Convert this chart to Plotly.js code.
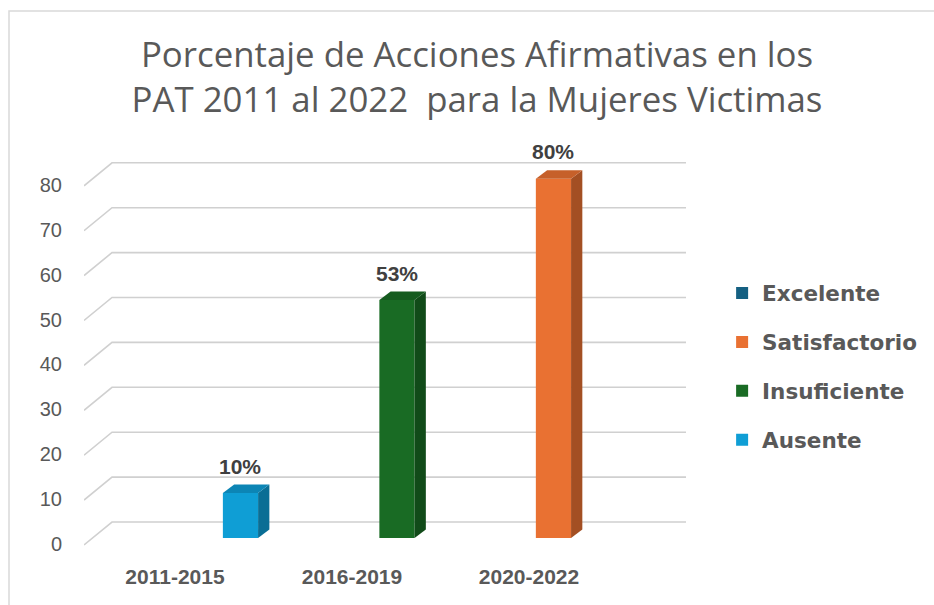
<!DOCTYPE html>
<html>
<head>
<meta charset="utf-8">
<script src="https://cdn.plot.ly/plotly-3.0.1.min.js"></script>
<style>html,body{margin:0;padding:0;background:#fff;}#chart{width:934px;height:605px;}</style>
</head>
<body>
<div id="chart"></div>
<script>
// ---- data ----
const categories = ["2011-2015", "2016-2019", "2020-2022"];
const seriesNames = ["Excelente", "Satisfactorio", "Insuficiente", "Ausente"];
const excelente = [null, null, null];
const satisfactorio = [null, null, 80];
const insuficiente = [null, 53, null];
const ausente = [10, null, null];
const yTicks = [0, 10, 20, 30, 40, 50, 60, 70, 80];

// ---- style ----
const frontColors = ["#156082", "#E97132", "#196B24", "#0F9ED5"];
const sideColors  = ["#0E4560", "#A34F23", "#114B19", "#0A6E95"];
const topColors   = ["#125473", "#C6602A", "#155B1F", "#0C85B5"];
const seriesValues = [excelente, satisfactorio, insuficiente, ausente];

const catPos = categories.map((c, i) => i);
const barWidth = 0.225;
const depthDx = 0.072;  // depth offset in x data units
const depthDy = 1.9;    // depth offset in y data units
const xRange = [-1.0, 2.847];
const yRange = [-4.9, 86.41];
const gridFrontDy = -1.56, gridBackDy = 3.56, gridBackDx = 0.179;

const traces = [];

// gridlines with perspective (base subplot, drawn below the bars)
yTicks.forEach(v => {
  traces.push({
    type: "scatter", mode: "lines", xaxis: "x", yaxis: "y",
    x: [xRange[0], xRange[0] + gridBackDx, xRange[1]],
    y: [v + gridFrontDy, v + gridBackDy, v + gridBackDy],
    line: {color: "#D0D0D0", width: 1.6},
    hoverinfo: "skip", showlegend: false
  });
});

// front faces (bars), in legend order
seriesValues.forEach((vals, s) => {
  traces.push({
    type: "bar", name: seriesNames[s], x: catPos, y: vals,
    xaxis: "x3", yaxis: "y3", width: barWidth,
    marker: {color: frontColors[s], line: {width: 0}},
    legendgroup: seriesNames[s], legendrank: s + 1,
    hoverinfo: "y+name"
  });
});

// side and top faces of the bars
seriesValues.forEach((vals, s) => {
  vals.forEach((v, i) => {
    if (v === null) return;
    const xl = catPos[i] - barWidth / 2, xr = catPos[i] + barWidth / 2;
    traces.push({
      type: "scatter", mode: "lines", fill: "toself", xaxis: "x3", yaxis: "y3",
      x: [xr, xr + depthDx, xr + depthDx, xr, xr],
      y: [0, depthDy, v + depthDy, v, 0],
      fillcolor: sideColors[s], line: {width: 0, color: sideColors[s]},
      hoverinfo: "skip", showlegend: false
    });
    traces.push({
      type: "scatter", mode: "lines", fill: "toself", xaxis: "x3", yaxis: "y3",
      x: [xl, xl + depthDx, xr + depthDx, xr, xl],
      y: [v, v + depthDy, v + depthDy, v, v],
      fillcolor: topColors[s], line: {width: 0, color: topColors[s]},
      hoverinfo: "skip", showlegend: false
    });
  });
});

// helper trace for label axes
traces.push({type: "scatter", mode: "none", xaxis: "x2", yaxis: "y2",
  x: catPos, y: catPos.map(() => null), showlegend: false, hoverinfo: "skip"});

// data labels
const annotations = [];
seriesValues.forEach(vals => {
  vals.forEach((v, i) => {
    if (v === null) return;
    annotations.push({
      x: catPos[i], y: v, xref: "x3", yref: "y3", text: v + "%",
      showarrow: false, yshift: 27,
      font: {family: "Liberation Sans, Arial, sans-serif", size: 21, color: "#404040", weight: "bold"}
    });
  });
});

const hiddenAxis = {showgrid: false, zeroline: false, showticklabels: false, showline: false, fixedrange: true};

const layout = {
  width: 934, height: 605,
  paper_bgcolor: "#ffffff", plot_bgcolor: "rgba(0,0,0,0)",
  margin: {l: 84, r: 248, t: 150, b: 45, autoexpand: false},
  title: {
    text: "Porcentaje de Acciones Afirmativas en los<br>PAT 2011 al 2022  para la Mujeres Victimas",
    font: {family: "Open Sans, sans-serif", size: 34.8, color: "#595959"},
    x: 477 / 934, xref: "container", xanchor: "center",
    y: 1 - 67 / 605, yref: "container", yanchor: "middle"
  },
  barmode: "overlay",
  showlegend: true,
  legend: {
    x: 1.06, xanchor: "left", y: 0.472, yanchor: "middle",
    font: {family: "DejaVu Sans, sans-serif", size: 21.5, color: "#595959", weight: "bold"},
    tracegroupgap: 18, traceorder: "grouped", bgcolor: "rgba(0,0,0,0)"
  },
  xaxis: Object.assign({range: xRange}, hiddenAxis),
  yaxis: Object.assign({range: yRange}, hiddenAxis),
  xaxis3: Object.assign({range: xRange, overlaying: "x", anchor: "y3"}, hiddenAxis),
  yaxis3: Object.assign({range: yRange, overlaying: "y", anchor: "x3"}, hiddenAxis),
  xaxis2: {
    overlaying: "x", anchor: "y", side: "bottom", range: [-0.514, 2.887],
    tickvals: catPos, ticktext: categories, showgrid: false, zeroline: false, showline: false,
    ticks: "", ticklabelstandoff: 2,
    tickfont: {family: "Liberation Sans, Arial, sans-serif", size: 21, color: "#595959", weight: "bold"}
  },
  yaxis2: {
    overlaying: "y", anchor: "x", side: "left", range: [-3.56, 87.75],
    tickvals: yTicks, showgrid: false, zeroline: false, showline: false,
    ticks: "", ticklabelstandoff: 21,
    tickfont: {family: "Liberation Sans, Arial, sans-serif", size: 20, color: "#595959"}
  },
  annotations: annotations,
  shapes: [{
    type: "rect", xref: "paper", yref: "paper",
    x0: (9 - 84) / 602, x1: (945 - 84) / 602,
    y0: (560 - 615) / 410, y1: (560 - 11) / 410,
    line: {color: "#D9D9D9", width: 1.5}, fillcolor: "rgba(0,0,0,0)", layer: "below"
  }]
};

Plotly.newPlot("chart", traces, layout, {displayModeBar: false, staticPlot: true});
</script>
</body>
</html>
